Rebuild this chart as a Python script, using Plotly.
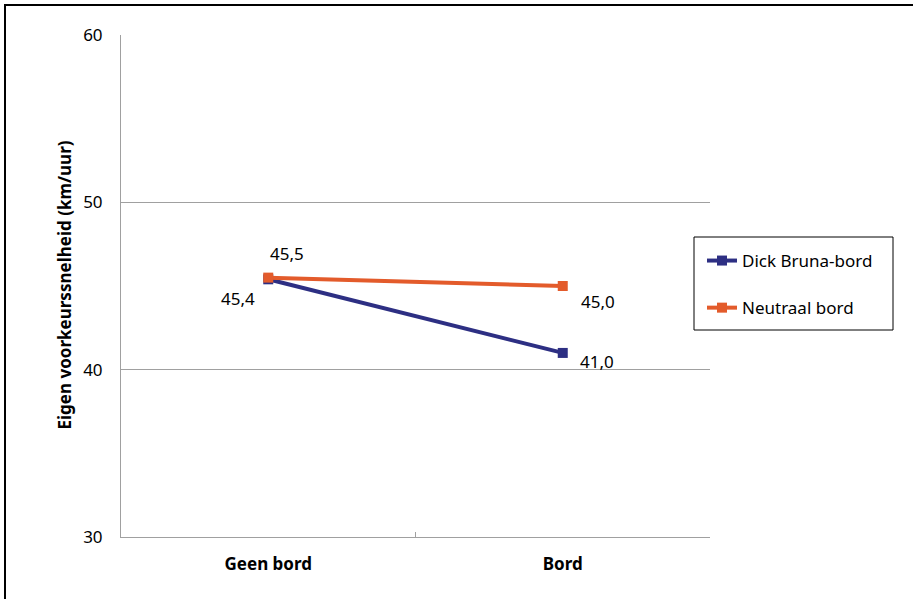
import plotly.graph_objects as go

# Conditions on the x axis
conditions = ["Geen bord", "Bord"]

# Mean preferred speed (km/h) per sign type
dick_bruna = [45.4, 41.0]
neutraal = [45.5, 45.0]

series_names = ["Dick Bruna-bord", "Neutraal bord"]
colors = ["#2D2F83", "#E35B2B"]

# Data label offsets in pixels (dx, dy) per series and point
label_offsets = [
    [(-30, -19), (34, -9)],
    [(19, 24), (35, -15)],
]

W, H = 913, 599
L, R, T, B = 121, 203, 35, 62
pw, ph = W - L - R, H - T - B


def px_x(px):
    return (px - L) / pw


def px_y(py):
    return (H - B - py) / ph


font_family = "Noto Sans, Open Sans, Liberation Sans, sans-serif"

fig = go.Figure()
for i, (name, vals) in enumerate(zip(series_names, [dick_bruna, neutraal])):
    fig.add_trace(go.Scatter(
        x=conditions, y=vals, name=name, mode="lines+markers",
        line=dict(color=colors[i], width=4),
        marker=dict(symbol="square", size=10, color=colors[i]),
        legendgroup=name,
    ))
    for j, v in enumerate(vals):
        dx, dy = label_offsets[i][j]
        fig.add_annotation(
            x=conditions[j], y=v, text=f"{v:.1f}".replace(".", ","),
            showarrow=False, xshift=dx, yshift=dy,
            font=dict(size=17, color="#000000", family=font_family),
        )

# Axis title
fig.add_annotation(
    x=px_x(50), y=px_y(285), xref="paper", yref="paper",
    text="<b>Eigen voorkeurssnelheid (km/uur)</b>", textangle=-90,
    showarrow=False, font=dict(size=17, color="#000000", family=font_family),
)

# Chart area border
fig.add_shape(
    type="rect", xref="paper", yref="paper",
    x0=px_x(5), x1=px_x(W + 10), y0=px_y(H + 10), y1=px_y(5),
    line=dict(color="#000000", width=2), fillcolor="rgba(0,0,0,0)", layer="below",
)

# Legend frame
fig.add_shape(
    type="rect", xref="paper", yref="paper",
    x0=px_x(694), x1=px_x(893), y0=px_y(330), y1=px_y(237),
    line=dict(color="#000000", width=1), fillcolor="#FFFFFF", layer="below",
)

fig.update_layout(
    width=W, height=H,
    margin=dict(l=L, r=R, t=T, b=B, autoexpand=False),
    paper_bgcolor="#FFFFFF", plot_bgcolor="#FFFFFF",
    font=dict(family=font_family, color="#000000"),
    showlegend=True,
    legend=dict(
        x=px_x(702), y=px_y(243), xanchor="left", yanchor="top",
        borderwidth=0, bgcolor="rgba(0,0,0,0)",
        font=dict(size=17, family=font_family), tracegroupgap=22,
        itemwidth=30,
    ),
    xaxis=dict(
        type="category", range=[-0.5, 1.5], tickson="boundaries",
        ticks="inside", ticklen=5, tickcolor="#A0A0A0",
        showline=True, linecolor="#A0A0A0", linewidth=1,
        showgrid=False, zeroline=False,
        tickfont=dict(size=17, family=font_family),
        tickmode="array", tickvals=conditions,
        ticktext=[f"<b>{c}</b>" for c in conditions],
        ticklabelstandoff=12,
    ),
    yaxis=dict(
        range=[30, 60], tickvals=[30, 40, 50, 60],
        showline=True, linecolor="#A0A0A0", linewidth=1,
        showgrid=True, gridcolor="#A0A0A0", gridwidth=1,
        zeroline=False, ticks="", ticklabelstandoff=14,
        tickfont=dict(size=17, family=font_family),
    ),
)

fig.write_html("out.html")
